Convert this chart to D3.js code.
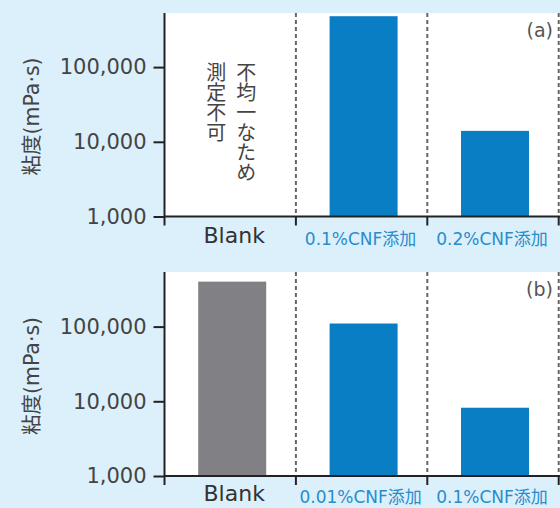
<!DOCTYPE html>
<html><head><meta charset="utf-8">
<script src="https://cdn.jsdelivr.net/npm/d3@7/dist/d3.min.js"></script>
<style>
html,body{margin:0;padding:0;background:#dcf0fb;}
svg{display:block;font-family:"DejaVu Sans","Noto Sans CJK JP",sans-serif;}
</style></head>
<body>
<svg id="c" width="560" height="508"></svg>
<script>
// ---- data ----
const categoriesA = ["Blank", "0.1%CNF添加", "0.2%CNF添加"];
const valuesA = [null, 480000, 14000];
const categoriesB = ["Blank", "0.01%CNF添加", "0.1%CNF添加"];
const valuesB = [400000, 110000, 8200];
const yTicks = [1000, 10000, 100000];
const yTickLabels = ["1,000", "10,000", "100,000"];
const yLabel = "粘度(mPa·s)";
const noteRight = "不均一なため";
const noteLeft = "測定不可";
const panelTitles = ["(a)", "(b)"];

const svg = d3.select("#c");
const fmt = d => yTickLabels[yTicks.indexOf(d)];

const panels = [
  {cats: categoriesA, vals: valuesA, title: panelTitles[0], top: 13, axisY: 216.5, blankDy: 26.5, catDy: 28.5},
  {cats: categoriesB, vals: valuesB, title: panelTitles[1], top: 272, axisY: 476, blankDy: 25, catDy: 26.5}
];
const x0 = 164.5, x1 = 558.7;
const dec = 74.7;

panels.forEach((p, pi) => {
  const g = svg.append("g");
  const y = d3.scaleLog().domain([1e3, 1e5]).range([p.axisY, p.axisY - 2 * dec]);
  const x = d3.scaleBand().domain(p.cats).range([x0, x1]).paddingInner(0).paddingOuter(0);
  const bw = x.bandwidth();
  const barW = 68;

  // white plot area
  g.append("rect").attr("x", x0).attr("y", p.top).attr("width", 600 - x0).attr("height", p.axisY - p.top).attr("fill", "#fff");

  // dashed separators
  p.cats.forEach((c) => {
    const xx = x(c) + bw;
    g.append("line").attr("x1", xx).attr("x2", xx).attr("y1", p.top).attr("y2", p.axisY)
      .attr("stroke", "#666").attr("stroke-width", 2).attr("stroke-dasharray", "4,3");
  });

  // bars
  p.cats.forEach((c, i) => {
    const v = p.vals[i];
    if (v == null) return;
    g.append("rect")
      .attr("x", x(c) + (bw - barW) / 2 + 2)
      .attr("y", y(v))
      .attr("width", barW)
      .attr("height", p.axisY - y(v))
      .attr("fill", c === "Blank" ? "#818185" : "#0a7ec4");
  });

  // y axis
  const yAxis = d3.axisLeft(y).tickValues(yTicks).tickFormat(fmt).tickSize(11).tickPadding(7);
  const ya = g.append("g").attr("transform", `translate(${x0},0)`).call(yAxis);
  ya.attr("font-family", null).attr("font-size", null);
  ya.select(".domain").remove();
  ya.selectAll(".tick line").attr("stroke", "#222").attr("stroke-width", 2);
  ya.selectAll(".tick text").attr("fill", "#444").attr("font-size", 21);
  g.append("line").attr("x1", x0).attr("x2", x0).attr("y1", p.top).attr("y2", p.axisY + 9)
    .attr("stroke", "#222").attr("stroke-width", 2);

  // x axis
  g.append("line").attr("x1", x0).attr("x2", 562).attr("y1", p.axisY).attr("y2", p.axisY)
    .attr("stroke", "#222").attr("stroke-width", 2);
  p.cats.forEach((c) => {
    const xx = x(c) + bw;
    g.append("line").attr("x1", xx).attr("x2", xx).attr("y1", p.axisY).attr("y2", p.axisY + 9)
      .attr("stroke", "#222").attr("stroke-width", 2);
  });
  p.cats.forEach((c) => {
    const blank = c === "Blank";
    g.append("text")
      .attr("x", x(c) + bw / 2 + (blank ? 4 : -1))
      .attr("y", p.axisY + (blank ? p.blankDy : p.catDy))
      .attr("text-anchor", "middle")
      .attr("fill", blank ? "#333" : "#2a8ccc")
      .attr("font-size", blank ? 22 : 17)
      .text(c);
  });

  // y label
  g.append("text")
    .attr("transform", `translate(39,${p.axisY - 100}) rotate(-90)`)
    .attr("text-anchor", "middle")
    .attr("fill", "#444")
    .attr("font-size", 20.5)
    .text(yLabel);

  // panel title
  g.append("text").attr("x", 553).attr("y", p.top + 24).attr("text-anchor", "end")
    .attr("fill", "#555").attr("font-size", 19).text(p.title);

  // note for missing value (vertical text)
  p.cats.forEach((c, i) => {
    if (p.vals[i] != null) return;
    const cx = x(c) + bw / 2;
    const cols = [{t: noteRight, dx: 16}, {t: noteLeft, dx: -14}];
    cols.forEach(col => {
      g.append("text")
        .attr("x", cx + col.dx).attr("y", p.top + 49)
        .style("writing-mode", "vertical-rl")
        .attr("font-family", "'Noto Sans CJK JP', sans-serif")
        .attr("fill", "#444").attr("font-size", 20)
        .text(col.t);
    });
  });
});
</script>
</body></html>
